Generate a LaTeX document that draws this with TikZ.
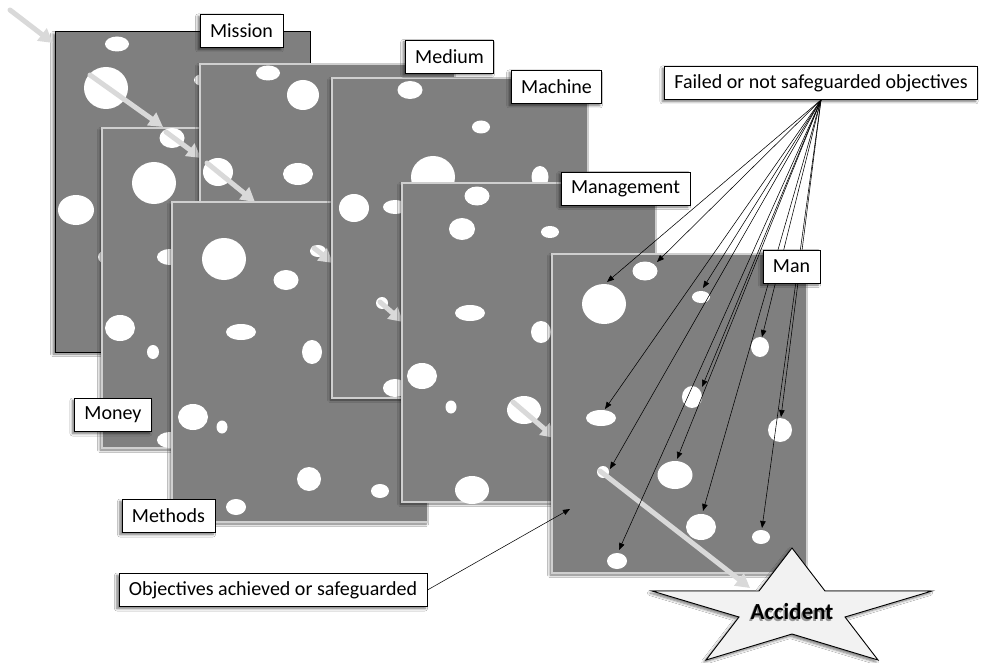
\documentclass[tikz,border=0pt]{standalone}
\usepackage{fontspec}
\setmainfont{Carlito}
\usetikzlibrary{arrows.meta,shadows.blur}

\definecolor{slabgray}{HTML}{7F7F7F}
\definecolor{slabedge}{HTML}{CFCFCF}
\definecolor{trailgray}{HTML}{D9D9D9}
\definecolor{starfill}{HTML}{F2F2F2}

% one white hole in a slice: centre x, centre y, x radius, y radius
\newcommand\cheesehole[4]{\fill[white] (#1,#2) ellipse [x radius=#3pt, y radius=#4pt];}

\tikzset{
  softshadow/.style={blur shadow={shadow xshift=-2pt, shadow yshift=-2pt,
      shadow blur radius=2.5pt, shadow blur steps=6, shadow opacity=55}},
  slab/.style={fill=slabgray, draw=slabedge, line width=1.2pt, softshadow},
  topslab/.style={fill=slabgray, draw=black, line width=1pt, softshadow},
  tag/.style={draw=black, line width=0.8pt, fill=white, inner xsep=10pt, inner ysep=0pt,
      minimum height=33pt, font=\fontsize{20}{24}\selectfont, softshadow},
  trail/.style={draw=trailgray, line width=5pt, line cap=round,
      -{Triangle[length=14pt,width=15pt]}},
  pointer/.style={draw=black, line width=0.55pt, -{Triangle[length=7pt,width=5.5pt]}},
}

\begin{document}
\begin{tikzpicture}[x=1pt, y=-1pt]
\useasboundingbox (0,0) rectangle (984,663);
\fill[white] (0,0) rectangle (984,663);

% ---- Mission
\path[topslab] (55,32) rectangle (310,352);
\cheesehole{117}{44}{12}{7.5}
\cheesehole{106}{88}{22}{21}
\cheesehole{203}{80}{9}{6}
\cheesehole{76}{210}{18}{15}
\cheesehole{107}{257}{9}{7}
\coordinate (a0) at (10,10);   \coordinate (b0) at (53,43);
\coordinate (a1) at (90,75);   \coordinate (b1) at (163,127);
\draw[trail] (a0) -- (b0);
\draw[trail] (a1) -- (b1);

% ---- Money
\path[slab] (102,128) rectangle (357,448);
\cheesehole{172}{138}{12.5}{10}
\cheesehole{154}{183}{22}{21}
\cheesehole{170}{257}{13}{8}
\cheesehole{120}{328}{15}{13}
\cheesehole{153}{352}{6}{7}
\cheesehole{170}{440}{13}{8}
\coordinate (a2) at (166,132); \coordinate (b2) at (201,158);
\draw[trail] (a2) -- (b2);

% ---- Medium
\path[slab] (200,64) rectangle (455,384);
\cheesehole{268}{73}{12}{7.5}
\cheesehole{303}{95}{16}{15}
\cheesehole{218}{172}{15}{14}
\cheesehole{298}{174}{15}{11}
\coordinate (a3) at (207,163); \coordinate (b3) at (255,202);
\draw[trail] (a3) -- (b3);

% ---- Methods
\path[slab] (172,202) rectangle (428,522);
\cheesehole{224}{259}{22}{21}
\cheesehole{286}{280}{12.5}{10}
\cheesehole{318}{251}{8}{6}
\cheesehole{241}{332}{15}{8}
\cheesehole{312}{352}{10}{12}
\cheesehole{193}{417}{15}{13}
\cheesehole{222}{427}{5.5}{6.5}
\cheesehole{309}{479}{12}{12}
\cheesehole{380}{491}{9}{7}
\cheesehole{236}{507}{10}{8}
\coordinate (a4) at (314,248); \coordinate (b4) at (333,263);
\draw[trail] (a4) -- (b4);

% ---- Machine
\path[slab] (332,78) rectangle (588,398);
\cheesehole{410}{90}{12.5}{9}
\cheesehole{481}{127}{9}{6.5}
\cheesehole{433}{177}{22}{21}
\cheesehole{540}{177}{8.5}{11}
\cheesehole{354}{208}{15}{14}
\cheesehole{395}{207}{12}{7}
\cheesehole{382}{303}{6}{6}
\cheesehole{395}{388}{12}{9}
\coordinate (a5) at (380,302); \coordinate (b5) at (403,322);
\draw[trail] (a5) -- (b5);

% ---- Management
\path[slab] (402,183) rectangle (656,502);
\cheesehole{477}{196}{12.5}{9.5}
\cheesehole{462}{229}{13}{11}
\cheesehole{550}{232}{9}{6}
\cheesehole{470}{313}{15}{8}
\cheesehole{541}{332}{10}{11}
\cheesehole{422}{376}{15}{13}
\cheesehole{451}{407}{5.5}{6.5}
\cheesehole{524}{410}{17}{14}
\cheesehole{472}{490}{17}{14}
\coordinate (a6) at (513,402); \coordinate (b6) at (555,438);
\draw[trail] (a6) -- (b6);

% ---- Man
\path[slab] (552,254) rectangle (807,573);
\cheesehole{645}{271}{12.5}{9.5}
\cheesehole{604}{304}{22}{20}
\cheesehole{701}{297}{9}{6}
\cheesehole{760}{347}{9}{10}
\cheesehole{692}{397}{10}{11}
\cheesehole{601}{418}{15}{8}
\cheesehole{780}{430}{12}{12}
\cheesehole{603}{472}{6}{6}
\cheesehole{675}{475}{17.5}{14}
\cheesehole{701}{527}{15}{13}
\cheesehole{761}{537}{9}{7}
\cheesehole{617}{561}{10}{8}

% ---- Accident star
\path[fill=starfill, draw=black, line width=0.9pt, line join=miter, softshadow]
  (792,548) -- (825,591) -- (932,591) -- (845,617) -- (878,660) -- (792,634)
  -- (706,660) -- (739,617) -- (652,591) -- (759,591) -- cycle;
\node[text=black!55, opacity=0.7, font=\fontsize{23}{27}\selectfont\bfseries] at (790.5,613.5) {Accident};
\node[font=\fontsize{23}{27}\selectfont\bfseries] (accident) at (792,612) {Accident};

\coordinate (a7) at (600,471); \coordinate (b7) at (750,588);
\draw[trail] (a7) -- (b7);

% ---- failed objectives and their pointers
\node[tag] (failed) at (821,83) {Failed or not safeguarded objectives};
\coordinate (t1) at (607,282);
\coordinate (t2) at (657,262);
\coordinate (t3) at (703,288);
\coordinate (t4) at (762,337);
\coordinate (t5) at (702,387);
\coordinate (t6) at (781,417);
\coordinate (t7) at (605,409);
\coordinate (t8) at (610,469);
\coordinate (t9) at (677,459);
\coordinate (t10) at (703,511);
\coordinate (t11) at (762,528);
\coordinate (t12) at (619,550);
\foreach \t in {t1,t2,t3,t4,t5,t6,t7,t8,t9,t10,t11,t12}
  \draw[pointer] (failed.south) -- (\t);

% ---- achieved objectives
\node[tag] (achieved) at (273,590) {Objectives achieved or safeguarded};
\coordinate (ok) at (570,509);
\draw[pointer] (achieved.east) -- (ok);

% ---- slice names
\node[tag] (mission)    at (241.5,31)  {Mission};
\node[tag] (medium)     at (449.5,56.5) {Medium};
\node[tag] (machine)    at (556.5,87)  {Machine};
\node[tag] (management) at (625.5,188.5) {Management};
\node[tag] (man)        at (791.5,266.5) {Man};
\node[tag] (money)      at (113,415)   {Money};
\node[tag] (methods)    at (168.5,516) {Methods};
\end{tikzpicture}
\end{document}
